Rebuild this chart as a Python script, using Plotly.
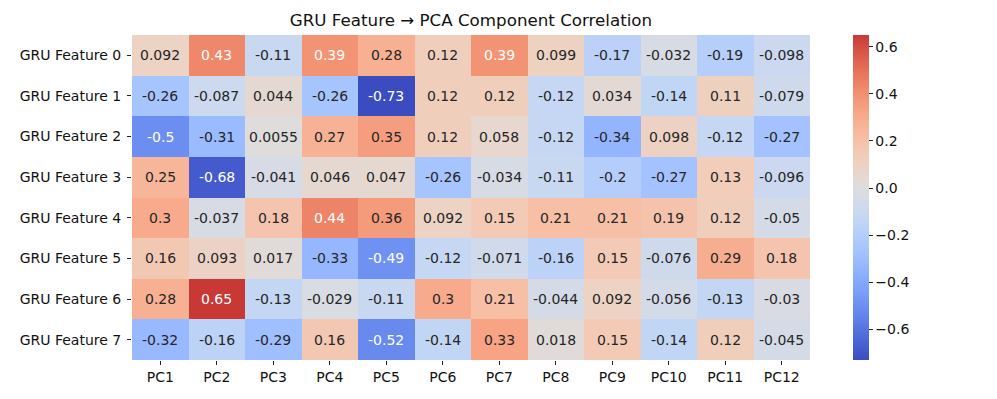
import plotly.graph_objects as go

components = ["PC1", "PC2", "PC3", "PC4", "PC5", "PC6", "PC7", "PC8", "PC9", "PC10", "PC11", "PC12"]
features = ["GRU Feature 0", "GRU Feature 1", "GRU Feature 2", "GRU Feature 3",
            "GRU Feature 4", "GRU Feature 5", "GRU Feature 6", "GRU Feature 7"]

feat0 = [0.092, 0.43, -0.11, 0.39, 0.28, 0.12, 0.39, 0.099, -0.17, -0.032, -0.19, -0.098]
feat1 = [-0.26, -0.087, 0.044, -0.26, -0.73, 0.12, 0.12, -0.12, 0.034, -0.14, 0.11, -0.079]
feat2 = [-0.5, -0.31, 0.0055, 0.27, 0.35, 0.12, 0.058, -0.12, -0.34, 0.098, -0.12, -0.27]
feat3 = [0.25, -0.68, -0.041, 0.046, 0.047, -0.26, -0.034, -0.11, -0.2, -0.27, 0.13, -0.096]
feat4 = [0.3, -0.037, 0.18, 0.44, 0.36, 0.092, 0.15, 0.21, 0.21, 0.19, 0.12, -0.05]
feat5 = [0.16, 0.093, 0.017, -0.33, -0.49, -0.12, -0.071, -0.16, 0.15, -0.076, 0.29, 0.18]
feat6 = [0.28, 0.65, -0.13, -0.029, -0.11, 0.3, 0.21, -0.044, 0.092, -0.056, -0.13, -0.03]
feat7 = [-0.32, -0.16, -0.29, 0.16, -0.52, -0.14, 0.33, 0.018, 0.15, -0.14, 0.12, -0.045]

z = [feat0, feat1, feat2, feat3, feat4, feat5, feat6, feat7]

# matplotlib "coolwarm" (Moreland) sampled
cw = [(59, 76, 192), (68, 90, 204), (77, 104, 215), (87, 117, 225), (98, 130, 234),
      (108, 142, 241), (119, 154, 247), (130, 165, 251), (141, 176, 254), (152, 185, 255),
      (163, 194, 255), (174, 201, 253), (184, 208, 249), (194, 213, 244), (204, 217, 238),
      (213, 219, 230), (221, 221, 221), (229, 216, 209), (236, 211, 197), (241, 204, 184),
      (245, 196, 173), (247, 187, 160), (247, 177, 148), (247, 166, 135), (244, 154, 123),
      (241, 141, 111), (236, 127, 99), (229, 112, 88), (222, 96, 77), (213, 80, 66),
      (203, 62, 56), (192, 40, 47), (180, 4, 38)]


def coolwarm(t):
    t = max(0.0, min(1.0, t)) * (len(cw) - 1)
    i = min(int(t), len(cw) - 2)
    f = t - i
    a, b = cw[i], cw[i + 1]
    return tuple(a[k] + (b[k] - a[k]) * f for k in range(3))


zmin = min(min(r) for r in z)
zmax = max(max(r) for r in z)
# seaborn-style centring at 0: colormap clipped to the data range
vr = max(abs(zmin), abs(zmax))
n = 64
colorscale = []
for k in range(n + 1):
    p = k / n
    val = zmin + p * (zmax - zmin)
    c = coolwarm((val + vr) / (2 * vr))
    colorscale.append([p, "rgb(%d,%d,%d)" % tuple(round(x) for x in c)])

fig = go.Figure(go.Heatmap(
    z=z, x=components, y=features,
    colorscale=colorscale, zmin=zmin, zmax=zmax,
    colorbar=dict(
        thickness=16, len=1.0, lenmode="fraction", y=0.5, yanchor="middle", ypad=0,
        x=1.0, xref="paper", xpad=43, xanchor="left",
        outlinewidth=0, ticks="outside", ticklen=4, tickcolor="#222",
        tickvals=[-0.6, -0.4, -0.2, 0.0, 0.2, 0.4, 0.6], tickformat=".1f",
        tickfont=dict(size=14, color="#111"),
    ),
    hoverinfo="skip",
))

for i, f in enumerate(features):
    for j, c in enumerate(components):
        v = z[i][j]
        col = "white" if (v >= 0.385 or v <= -0.45) else "#262626"
        fig.add_annotation(x=c, y=f, text="%g" % v, showarrow=False,
                           font=dict(size=14, color=col))

# page body has an 8px margin, so the figure is drawn 8px smaller
fig.update_layout(
    width=989, height=391,
    margin=dict(l=117, r=187, t=27, b=39),
    paper_bgcolor="white", plot_bgcolor="white",
    font=dict(family="DejaVu Sans", color="#111"),
    title=dict(text="GRU Feature → PCA Component Correlation", x=0.5, xref="paper",
               xanchor="center", y=1 - 12 / 391, yref="container", yanchor="middle",
               font=dict(size=16.7, color="#111")),
)
fig.update_xaxes(showgrid=False, zeroline=False, ticks="outside", ticklen=4, tickcolor="#222",
                 tickfont=dict(size=14))
fig.update_yaxes(showgrid=False, zeroline=False, autorange="reversed", ticks="outside",
                 ticklen=4, tickcolor="#222", tickfont=dict(size=14), ticklabelstandoff=3)

fig.write_html("out.html")
